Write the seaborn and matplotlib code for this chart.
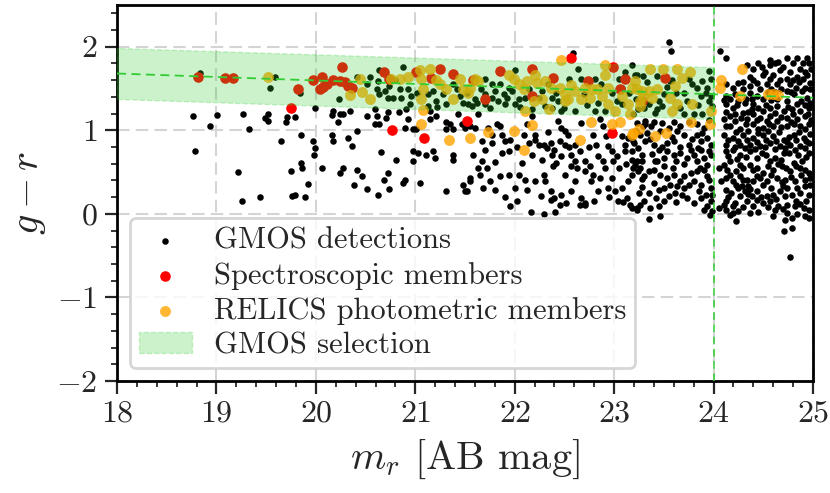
import numpy as np
import pandas as pd
import matplotlib
matplotlib.use("Agg")
import matplotlib.pyplot as plt
import seaborn as sns
from matplotlib.ticker import MultipleLocator

# ---------------- data ----------------
# GMOS detections, (m_r, g-r), by region
det_left = [(18.76,1.17),(18.78,0.75),(18.94,1.05),(19.01,1.18),(19.27,1.19),(19.33,1.02),(19.22,0.50),
            (19.26,0.16),(19.44,0.20),(19.49,1.15),(19.52,1.19),(19.52,1.11),(19.65,0.87),(19.71,1.16),
            (19.70,1.10),(19.79,1.16),(19.76,0.22),(18.83,1.69),(19.54,1.51),(19.59,1.64)]
det_mid_band = [(20.88,1.76),(20.54,1.64),(20.63,1.59),(20.61,1.49),(20.64,1.43),(20.74,1.53),(20.73,1.39),
                (20.78,1.39),(20.85,1.49),(20.86,1.39),(20.93,1.50),(20.96,1.41),(20.23,1.37),(20.41,1.64),
                (20.51,1.55),(20.64,1.72),(21.13,1.43),(21.18,1.47),(21.21,1.35),(21.28,1.43),(21.31,1.31),
                (21.42,1.49),(21.45,1.41),(21.52,1.45),(21.48,1.33),(19.84,1.45),(21.13,1.29),
                (20.70,1.47),(20.95,1.31),(21.02,1.45),(21.38,1.55),(20.80,1.60),(21.22,1.28)]
det_mid_low = [(19.99,1.27),(20.17,1.23),(20.16,1.18),(20.24,1.19),(20.22,1.10),(20.27,1.19),(20.34,1.23),
               (20.51,1.17),(20.59,1.25),(20.61,1.17),(20.59,1.07),(20.64,1.07),(20.73,1.22),(20.71,1.15),
               (20.84,1.22),(20.91,1.25),(20.93,1.13),(20.90,1.03),(20.98,1.02),(21.01,1.01),(21.15,1.23),
               (21.21,1.17),(21.15,1.13),(21.31,1.10),(21.35,1.07),(21.31,1.01),(21.43,1.19),(21.47,1.07),
               (21.50,1.03),(21.38,1.01),
               (19.85,0.95),(19.97,0.87),(19.99,0.79),(19.98,0.71),(19.85,0.61),(19.86,0.55),(20.06,0.55),
               (20.16,0.95),(20.17,0.87),(20.32,0.91),(20.36,0.81),(20.41,0.99),(20.27,0.55),(20.24,0.49),
               (20.41,0.53),(20.46,0.45),(20.38,0.35),(20.51,0.30),(20.66,0.74),(20.73,0.49),(20.69,0.41),
               (20.74,0.30),(20.81,0.64),(20.63,0.23),(20.90,0.41),(20.88,0.37),(20.98,0.63),(20.98,0.75),
               (21.03,0.73),(21.05,0.37),(21.11,0.71),(21.18,0.75),(21.20,0.67),(21.31,0.27),(21.38,0.71),
               (21.38,0.65),(21.48,0.35),(21.50,0.27),(21.55,0.43),(19.79,0.23),(19.89,0.20),(19.92,0.36),
               (19.75,0.51)]
det_c_band = [(21.70,1.62),(21.77,1.55),(21.80,1.47),(21.70,1.31),(21.62,1.33),(21.53,1.31),(21.83,1.35),
              (21.90,1.31),(21.89,1.43),(21.97,1.47),(22.00,1.72),(22.00,1.31),(22.10,1.39),(22.27,1.47),
              (22.37,1.39),(22.44,1.35),(22.37,1.27),(22.64,1.74),(22.67,1.62),(22.81,1.62),(22.84,1.33),
              (22.91,1.23),(23.03,1.35),(23.08,1.31),(23.18,1.78),(23.23,1.66),(23.24,1.25),(23.30,1.27),
              (23.11,1.70),(22.81,1.23),(22.61,1.23),(22.47,1.23),(22.30,1.29),(22.17,1.25),(22.04,1.37),
              (21.94,1.51),(23.08,1.51),(21.77,1.39),(21.57,1.29),(21.70,1.43),(22.59,1.92),
              (21.60,1.37),(21.66,1.50),(21.75,1.27),(21.85,1.55),(21.92,1.39),(22.05,1.28),(22.14,1.50),
              (22.24,1.39),(22.33,1.55),(22.42,1.45),(22.50,1.27),(22.55,1.62),(22.70,1.43),(22.73,1.30),
              (22.87,1.55),(22.98,1.45),(23.05,1.62),(23.15,1.45),(23.22,1.37),(23.33,1.58),(23.45,1.35),
              (23.53,1.52),(23.62,1.45),(23.66,1.27),(23.75,1.62),(23.84,1.30),(23.92,1.45),(23.95,1.35),
              (23.43,1.25),(23.58,1.60)]
det_c_low = [(21.63,1.19),(21.55,1.05),(21.60,1.03),(21.73,1.03),(21.82,1.07),(21.85,1.05),(21.77,0.95),
             (21.67,0.87),(21.77,0.85),(21.90,0.87),(21.87,0.73),(21.94,0.75),(22.09,0.95),(22.12,1.07),
             (22.17,1.17),(22.20,0.95),(22.20,0.89),(22.24,0.83),(22.17,0.71),(22.29,0.83),(22.36,0.85),
             (22.32,0.79),(22.37,0.71),(22.40,0.77),(22.44,1.11),(22.47,1.03),(22.51,0.99),(22.54,0.95),
             (22.51,0.83),(22.61,0.83),(22.57,0.71),(22.61,0.63),(22.57,0.57),(22.66,0.75),(22.71,0.63),
             (22.71,0.51),(22.76,0.57),(22.79,0.47),(22.84,0.69),(22.89,0.63),(22.91,0.55),(22.86,1.13),
             (22.89,1.05),(22.94,0.81),(22.98,0.75),(22.99,0.63),(23.08,0.93),(23.11,0.83),(23.11,0.75),
             (23.14,0.91),(23.18,0.65),(23.21,0.59),(23.24,0.79),(23.28,0.63),(23.31,1.07),(23.24,0.51),
             (23.18,0.47),(23.14,0.39),(23.08,0.31),(22.98,0.43),(22.94,0.31),(23.01,0.27),(22.84,0.27),
             (22.77,0.39),(22.67,0.19),(22.71,0.11),(22.57,0.27),(22.47,0.23),(22.40,0.19),(22.36,0.27),
             (22.30,0.39),(22.20,0.39),(22.12,0.29),(22.04,0.47),(22.00,0.31),(21.94,0.47),(21.85,0.45),
             (21.75,0.39),(21.68,0.31),(21.63,0.55),(21.65,0.47),(21.67,0.63),(21.55,0.39),(21.52,0.27),
             (22.02,0.15),(22.29,0.47),(22.51,0.47),(22.61,0.39),(23.04,0.15),(23.18,0.07),(23.26,0.11),
             (21.87,0.95),(21.70,0.77),(22.07,0.61),(22.39,0.57),(22.79,0.95),(22.46,0.87),(22.67,1.09),
             (22.16,0.02),(22.29,0.00),(22.41,0.02),(21.95,0.09),(22.36,0.17),(22.46,0.11),(22.66,0.11),
             (22.71,0.13),(23.09,0.14),(23.16,0.11),(23.23,0.05),
             (21.58,0.70),(21.72,0.55),(21.80,0.62),(21.95,0.88),(22.02,0.80),(22.14,0.85),(22.27,0.65),
             (22.33,0.98),(22.42,0.61),(22.47,0.69),(22.55,0.80),(22.63,0.55),(22.75,0.80),(22.82,0.83),
             (22.86,0.43),(22.92,0.93),(23.03,0.69),(23.05,0.55),(23.12,0.60),(23.20,0.85),(23.28,0.42),
             (23.13,0.19),(22.95,0.20),(22.80,0.15),(22.52,0.13),(22.26,0.22),(22.10,0.40),(21.90,0.20),
             (21.80,0.28),(23.25,0.25)]
det_r_top = [(23.55,2.06),(23.57,1.95),(24.06,1.95),
             (23.21,1.66),(23.29,1.65),(23.43,1.65),(23.56,1.59),(23.95,1.71),(23.97,1.62),(23.88,1.59),
             (23.78,1.55),(23.70,1.45),(23.83,1.51),(23.93,1.51),(23.87,1.41),(23.97,1.41),(23.50,1.43),
             (23.48,1.29),(23.41,1.21),(23.70,1.19),(23.80,1.19),(23.88,1.19),(23.98,1.29),(23.19,1.19),
             (23.35,1.31),(23.73,1.35),
             (23.23,1.09),(23.31,1.11),(23.40,1.10),(23.29,1.05),(23.48,1.09),(23.60,1.10),(23.66,1.05),
             (23.83,1.07),(23.90,1.03),(23.26,0.95),(23.33,0.97),(23.46,0.99),(23.63,0.99),(23.70,0.95),
             (23.83,0.95),(23.93,0.91),(23.19,0.87),(23.31,0.87),(23.40,0.83),(23.53,0.85),(23.60,0.87),
             (23.75,0.83),(23.87,0.87),(23.97,0.83),
             (23.37,1.05),(23.55,1.03),(23.75,1.10),(23.95,1.12),(23.22,0.99),(23.58,0.92),(23.78,0.90),
             (23.88,0.97),(23.36,0.90),(23.48,0.80),(23.66,0.80),(23.84,0.79),(23.95,0.75)]
det_faint_top = [(24.13,1.87),(24.57,1.84),(24.65,1.82),(24.74,1.87),(24.84,1.87),(24.94,1.86),(24.96,1.80),
                 (24.34,1.78),(24.40,1.74),(24.49,1.76),(24.57,1.78),(24.67,1.72),(24.77,1.70),(24.87,1.74),
                 (24.92,1.70),(24.37,1.64),(24.50,1.66),(24.60,1.66),(24.74,1.62),(24.84,1.64),(24.94,1.66),
                 (24.13,1.55),(24.20,1.51),(24.25,1.57),(24.30,1.58),(24.44,1.57),(24.54,1.55),(24.64,1.55),
                 (24.77,1.55),(24.86,1.58),(24.92,1.51),(24.97,1.57),(24.47,1.49),(24.12,1.41),(24.17,1.37),
                 (24.37,1.45),(24.39,1.37),(24.44,1.41),(24.50,1.37),(24.74,1.47),(24.81,1.43),(24.89,1.47),
                 (24.94,1.39),(24.74,1.35),(24.84,1.31),(24.13,1.31),(24.20,1.27),(24.25,1.35),(24.32,1.33),
                 (24.30,1.21),(24.39,1.25),(24.45,1.27),(24.50,1.23),(24.57,1.27),(24.64,1.29),(24.71,1.23),
                 (24.79,1.25),(24.87,1.23),(24.96,1.27),(24.17,1.17),(24.40,1.19),(24.57,1.17),(24.10,1.13),
                 (24.22,1.11),(24.34,1.13),(24.47,1.15),(24.54,1.11),(24.64,1.11),(24.74,1.15),(24.84,1.13),
                 (24.92,1.17),(24.17,1.05),(24.27,1.01),(24.40,1.07),(24.50,1.03),(24.60,1.05),(24.74,1.05),
                 (24.87,1.05),(24.96,1.07),(24.10,0.95),(24.20,0.91),(24.30,0.95),(24.40,0.91),(24.50,0.95),
                 (24.60,0.93),(24.71,0.89),(24.81,0.95),(24.91,0.91),(24.13,0.83),(24.27,0.83),(24.37,0.83),
                 (24.47,0.81),(24.57,0.85),(24.67,0.81),(24.77,0.83),(24.87,0.81),(24.96,0.85)]
det_faint_top2 = [(24.45,1.80),(24.62,1.80),(24.80,1.80),(24.90,1.80),(24.52,1.70),(24.70,1.76),(24.98,1.74),
                  (24.40,1.60),(24.57,1.61),(24.67,1.60),(24.80,1.60),(24.90,1.62),(24.30,1.50),(24.37,1.53),
                  (24.58,1.50),(24.68,1.49),(24.83,1.51),(24.97,1.49),(24.22,1.44),(24.55,1.46),(24.62,1.46),
                  (24.78,1.46),(24.10,1.36),(24.33,1.38),(24.58,1.36),(24.64,1.38),(24.88,1.35),(24.97,1.33),
                  (24.24,1.30),(24.40,1.31),(24.53,1.30),(24.75,1.28),(24.92,1.30),(24.12,1.22),(24.22,1.20),
                  (24.35,1.22),(24.62,1.21),(24.80,1.20),(24.95,1.20),(24.28,1.15),(24.44,1.12),(24.68,1.16),
                  (24.78,1.10),(24.98,1.12),(24.12,1.05),(24.33,1.07),(24.45,1.02),(24.56,1.07),(24.68,1.04),
                  (24.81,1.07),(24.92,1.02),(24.23,0.98),(24.35,0.99),(24.45,0.97),(24.55,0.99),(24.66,0.98),
                  (24.76,0.92),(24.86,0.98),(24.97,0.96),(24.15,0.89),(24.25,0.87),(24.34,0.88),(24.44,0.86),
                  (24.53,0.89),(24.63,0.87),(24.74,0.86),(24.83,0.88),(24.93,0.87),(24.22,0.80),(24.32,0.79),
                  (24.42,0.78),(24.52,0.80),(24.62,0.78),(24.72,0.79),(24.82,0.77),(24.92,0.79)]
det_r_low = [(23.23,0.63),(23.19,0.55),(23.35,0.51),(23.40,0.53),(23.43,0.63),(23.50,0.67),(23.53,0.75),
             (23.66,0.73),(23.73,0.67),(23.80,0.71),(23.83,0.63),(23.90,0.67),(23.97,0.71),(23.46,0.47),
             (23.53,0.43),(23.60,0.47),(23.66,0.39),(23.77,0.49),(23.83,0.51),(23.80,0.39),(23.87,0.35),
             (23.93,0.45),(23.97,0.31),(23.98,0.23),(23.97,0.15),(23.92,0.23),(23.40,0.37),(23.35,0.25),
             (23.50,0.31),(23.56,0.35),(23.61,0.25),(23.68,0.23),(23.73,0.19),(23.70,0.31),(23.87,0.19),
             (23.50,0.15),(23.45,0.09),(23.23,0.07),(23.36,0.07),(23.35,-0.06),(23.46,-0.03),(23.98,0.03),
             (24.05,0.07),(23.41,0.63),(23.18,0.75),(23.60,0.71),(23.26,0.55),(23.45,0.77),(24.05,0.55),
             (24.07,0.39),(23.77,0.77),(23.87,0.77),
             (23.28,0.70),(23.38,0.72),(23.62,0.63),(23.70,0.60),(23.93,0.58),(23.86,0.55),(23.59,0.55),
             (23.50,0.57),(23.30,0.45),(23.70,0.45),(23.90,0.52),(23.95,0.40),(23.75,0.35),(23.63,0.33),
             (23.45,0.29),(23.28,0.32),(23.85,0.27),(23.93,0.10),(23.80,0.13),(23.62,0.14),(23.55,0.21),
             (23.42,0.19),(23.90,0.05),(23.96,-0.01),(23.30,0.15)]
det_faint_low = [(24.12,0.75),(24.20,0.77),(24.27,0.71),(24.37,0.75),(24.44,0.67),(24.49,0.73),(24.57,0.63),
                 (24.71,0.73),(24.76,0.73),(24.81,0.61),(24.89,0.63),(24.96,0.73),(24.10,0.59),(24.17,0.63),
                 (24.23,0.51),(24.30,0.55),(24.37,0.59),(24.44,0.55),(24.50,0.49),(24.60,0.53),(24.69,0.57),
                 (24.77,0.51),(24.87,0.55),(24.96,0.49),(24.13,0.43),(24.20,0.39),(24.27,0.45),(24.34,0.41),
                 (24.40,0.39),(24.47,0.43),(24.54,0.39),(24.64,0.43),(24.72,0.41),(24.82,0.39),(24.92,0.41),
                 (24.97,0.35),(24.12,0.29),(24.18,0.25),(24.25,0.31),(24.32,0.27),(24.39,0.21),(24.44,0.27),
                 (24.54,0.21),(24.60,0.23),(24.67,0.27),(24.74,0.31),(24.79,0.23),(24.87,0.25),(24.96,0.23),
                 (24.13,0.15),(24.22,0.13),(24.12,0.05),(24.20,0.09),(24.25,0.03),(24.34,0.15),(24.44,0.17),
                 (24.50,0.13),(24.57,0.15),(24.65,0.09),(24.74,0.11),(24.82,0.09),(24.91,0.07),(24.96,0.05),
                 (24.17,-0.01),(24.23,-0.09),(24.37,0.01),(24.74,0.01),(24.72,-0.07),(24.79,-0.05),
                 (24.96,-0.05),(24.71,-0.20),(24.79,-0.17),(24.77,-0.52),(24.35,0.33),
                 (24.15,0.69),(24.24,0.66),(24.33,0.68),(24.53,0.70),(24.62,0.67),(24.68,0.65),(24.85,0.70),
                 (24.93,0.68),(24.14,0.52),(24.27,0.58),(24.40,0.52),(24.55,0.57),(24.65,0.60),(24.73,0.55),
                 (24.83,0.57),(24.92,0.53),(24.17,0.46),(24.30,0.40),(24.44,0.45),(24.58,0.46),(24.69,0.38),
                 (24.78,0.44),(24.88,0.46),(24.97,0.43),(24.23,0.34),(24.29,0.33),(24.37,0.30),(24.50,0.35),
                 (24.58,0.31),(24.70,0.33),(24.84,0.31),(24.92,0.33),(24.15,0.20),(24.27,0.21),(24.35,0.24),
                 (24.48,0.20),(24.63,0.18),(24.72,0.22),(24.83,0.16),(24.93,0.15),(24.10,0.11),(24.30,0.08),
                 (24.40,0.10),(24.55,0.08),(24.62,0.05),(24.70,0.06),(24.87,0.12),(24.20,0.01),(24.45,0.02),
                 (24.60,-0.02),(24.84,0.00),(24.92,-0.02)]

# Spectroscopic members
spec_members = [(18.81,1.64),(19.09,1.63),(19.17,1.63),(19.75,1.27),(20.26,1.76),(19.82,1.49),(19.97,1.60),
                (20.06,1.64),(20.07,1.52),(20.11,1.55),(20.04,1.50),(20.17,1.60),(20.24,1.59),(20.29,1.58),
                (20.32,1.53),(20.36,1.51),(20.69,1.70),(20.74,1.62),(21.01,1.70),(21.25,1.74),(21.38,1.67),
                (21.16,1.63),(20.77,1.00),(21.09,0.91),(21.52,1.11),(22.57,1.86),(22.17,1.74),(21.85,1.71),
                (21.70,1.37),(22.39,1.63),(22.74,1.59),(22.99,1.76),(23.11,1.62),(23.06,1.49),(22.98,0.97),
                (22.17,1.41),(21.58,1.60),(23.51,1.63),(23.28,1.35)]

# RELICS photometric members
relics_members = [(19.52,1.64),(20.44,1.62),(20.34,1.42),(20.46,1.46),(20.54,1.37),(20.76,1.62),(20.85,1.61),
                  (20.93,1.64),(21.05,1.72),(21.15,1.73),(21.06,1.61),(21.08,1.50),(21.06,1.37),(21.21,1.60),
                  (21.25,1.56),(21.31,1.50),(21.38,1.37),(21.45,1.62),(21.48,1.50),(21.08,1.24),(21.06,1.07),
                  (21.34,0.89),(21.55,0.91),(22.47,1.84),(22.17,1.06),(21.99,0.99),(21.73,0.98),(22.09,0.76),
                  (22.66,0.89),(22.77,1.10),(22.98,1.07),(23.06,1.10),(23.18,0.95),(23.25,1.01),(22.91,1.78),
                  (21.60,1.62),(21.63,1.59),(21.55,1.51),(21.53,1.45),(21.94,1.66),(21.99,1.62),(22.04,1.55),
                  (22.09,1.49),(22.12,1.59),(22.20,1.66),(22.22,1.57),(22.30,1.59),(22.27,1.37),(22.19,1.35),
                  (22.10,1.23),(22.36,1.51),(22.46,1.51),(22.51,1.43),(22.54,1.37),(22.57,1.54),(22.61,1.47),
                  (22.71,1.51),(22.67,1.37),(22.76,1.39),(22.78,1.49),(22.83,1.49),(22.88,1.41),(22.94,1.51),
                  (22.91,1.66),(22.94,1.31),(23.01,1.23),(23.08,1.41),(23.14,1.31),(23.16,1.19),(23.18,1.51),
                  (23.21,1.59),(23.26,1.35),(23.28,1.47),(22.34,1.25),(22.51,1.35),
                  (23.36,1.74),(23.49,1.73),(23.63,1.74),(23.76,1.70),(23.68,1.63),(23.61,1.53),(23.43,1.49),
                  (23.35,1.47),(23.23,1.49),(23.29,1.41),(23.38,1.39),(23.26,1.29),(23.56,1.39),(23.63,1.31),
                  (23.58,1.23),(23.78,1.31),(23.97,1.23),(24.07,1.60),(24.06,1.51),(23.77,1.10),(23.96,1.07),
                  (23.19,0.97),(23.41,0.93),(23.52,0.97),(24.29,1.74),(24.27,1.41),(24.55,1.43),(24.65,1.42),
                  (24.60,1.43)]

# GMOS selection band and red-sequence line
band_mag = [18.0, 24.0]
band_lo = [1.37, 1.13]
band_hi = [1.98, 1.75]
rs_mag = [18.0, 25.0]
rs_col = [1.68, 1.39]
mag_limit = 24.0

# ---------------- build tables ----------------
det = pd.DataFrame(det_left + det_mid_band + det_mid_low + det_c_band + det_c_low + det_r_top
                   + det_faint_top + det_faint_top2 + det_r_low + det_faint_low, columns=["mag", "col"])
spec = pd.DataFrame(spec_members, columns=["mag", "col"])
rel = pd.DataFrame(relics_members, columns=["mag", "col"])

# ---------------- style ----------------
sns.set_style("white")
plt.rcParams.update({
    "font.family": "serif",
    "font.serif": ["cmr10", "DejaVu Serif"],
    "mathtext.fontset": "cm",
    "axes.formatter.use_mathtext": True,
    "axes.unicode_minus": True,
})

fig = plt.figure(figsize=(8.3, 4.93), dpi=100)
ax = fig.add_axes([117 / 830, 1 - 381 / 493, (813 - 117) / 830, (381 - 5) / 493])

sns.scatterplot(data=det, x="mag", y="col", ax=ax, color="black", s=22, linewidth=0,
                label="GMOS detections", zorder=2)
sns.scatterplot(data=spec, x="mag", y="col", ax=ax, color="red", s=58, linewidth=0,
                label="Spectroscopic members", zorder=3)
sns.scatterplot(data=rel, x="mag", y="col", ax=ax, color="orange", s=62, linewidth=0, alpha=0.8,
                label="RELICS photometric members", zorder=3)

ax.fill_between(band_mag, band_lo, band_hi, color="limegreen", alpha=0.25, linestyle="--",
                linewidth=1.0, label="GMOS selection", zorder=4)
ax.plot(rs_mag, rs_col, color="limegreen", linestyle=(0, (5, 3)), linewidth=1.3, zorder=5)
ax.axvline(mag_limit, color="limegreen", linestyle=(0, (5, 3)), linewidth=1.1, zorder=5)

ax.set_xlim(18, 25)
ax.set_ylim(-2, 2.5)
ax.xaxis.set_major_locator(MultipleLocator(1))
ax.xaxis.set_minor_locator(MultipleLocator(0.2))
ax.yaxis.set_major_locator(MultipleLocator(1))
ax.yaxis.set_minor_locator(MultipleLocator(0.2))
ax.grid(True, which="major", color="#d4d4d4", linestyle=(0, (6, 3)), linewidth=1.5, zorder=0)
ax.set_axisbelow(True)

for sp in ax.spines.values():
    sp.set_linewidth(2)
    sp.set_color("black")
ax.tick_params(which="major", direction="out", length=9, width=1.6, labelsize=23, pad=5,
               bottom=True, left=True, top=False, right=False)
ax.tick_params(which="minor", direction="out", length=4.5, width=1.3,
               bottom=True, left=True, top=False, right=False)

ax.set_xlabel(r"$m_r$ [AB mag]", fontsize=29, labelpad=7)
ax.set_ylabel(r"$g-r$", fontsize=29, labelpad=6)

leg = ax.legend(loc="lower left", fontsize=22, framealpha=0.8, edgecolor="#cccccc",
                fancybox=True, labelspacing=0.23, borderpad=0.3, handlelength=1.73,
                handletextpad=0.72, borderaxespad=0.42)
leg.get_frame().set_linewidth(2)

fig.savefig("out.png", dpi=100)
